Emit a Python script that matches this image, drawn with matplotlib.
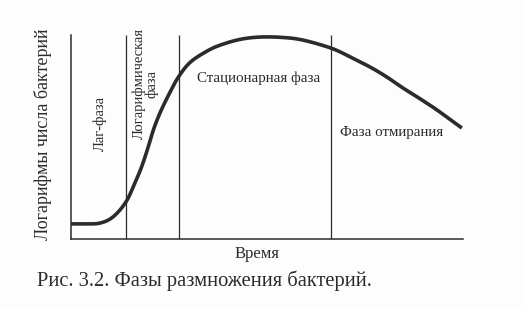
import matplotlib.pyplot as plt
import numpy as np

# Growth curve of a bacterial culture (time and log count in arbitrary units)
time = [0.0, 0.36, 0.74, 1.07, 1.40, 1.63, 1.80, 1.97, 2.10, 2.27, 2.49, 2.74,
        3.04, 3.46, 3.80, 4.30, 4.82, 5.40, 5.92, 6.63, 7.10, 7.63, 8.05, 8.47,
        8.90, 9.34, 9.97]
log_count = [0.74, 0.74, 0.78, 1.08, 1.81, 2.75, 3.53, 4.51, 5.34, 6.18, 7.06, 7.94,
             8.66, 9.20, 9.50, 9.78, 9.90, 9.88, 9.75, 9.36, 8.95, 8.43, 7.95, 7.40,
             6.88, 6.32, 5.44]

# Phase boundaries
phase_bounds = [1.40, 2.76, 6.63]

ylabel = "Логарифмы числа бактерий"
xlabel = "Время"
caption = "Рис. 3.2. Фазы размножения бактерий."

ink = "#2b2b2b"
serif = ["Liberation Serif", "DejaVu Serif"]


def smooth_path(x, y, steps=12):
    # Catmull-Rom pass so the drawn line has no corners
    p = np.column_stack([x, y])
    p = np.vstack([p[0], p, p[-1]])
    out = []
    t = np.linspace(0, 1, steps, endpoint=False)[:, None]
    for i in range(1, len(p) - 2):
        p0, p1, p2, p3 = p[i - 1], p[i], p[i + 1], p[i + 2]
        seg = 0.5 * ((2 * p1) + (-p0 + p2) * t
                     + (2 * p0 - 5 * p1 + 4 * p2 - p3) * t ** 2
                     + (-p0 + 3 * p1 - 3 * p2 + p3) * t ** 3)
        out.append(seg)
    out.append(p[-2][None, :])
    out = np.vstack(out)
    return out[:, 0], out[:, 1]


fig = plt.figure(figsize=(5.22, 3.09), dpi=100)
fig.patch.set_facecolor("#fdfdfd")
ax = fig.add_axes([71 / 522, 70 / 309, 392 / 522, 204 / 309])
ax.set_facecolor("none")
ax.set_xlim(0, 10)
ax.set_ylim(0, 10)

sx, sy = smooth_path(time, log_count)
ax.plot(sx, sy, color=ink, lw=2.6, solid_capstyle="butt", solid_joinstyle="round")
ax.vlines(phase_bounds, 0, 10, color=ink, lw=0.9)

for side in ("top", "right"):
    ax.spines[side].set_visible(False)
for side in ("left", "bottom"):
    ax.spines[side].set_color(ink)
    ax.spines[side].set_linewidth(1.1)
ax.set_xticks([])
ax.set_yticks([])

# phase labels
ax.text(0.74, 5.65, "Лаг-фаза", rotation=90, ha="center", va="center",
        fontsize=10.5, family=serif, color=ink)
ax.text(1.90, 7.6, "Логарифмическая\nфаза", rotation=90, ha="center", va="center",
        multialignment="center", fontsize=10.5, family=serif, color=ink, linespacing=1.0)
ax.text(3.21, 7.86, "Стационарная фаза", ha="left", va="center",
        fontsize=10.8, family=serif, color=ink)
ax.text(6.86, 5.2, "Фаза отмирания", ha="left", va="center",
        fontsize=10.8, family=serif, color=ink)

fig.text(43 / 522, 1 - 134 / 309, ylabel, rotation=90, ha="center", va="center",
         fontsize=13, family=serif, color=ink)
fig.text(257 / 522, 1 - 254 / 309, xlabel, ha="center", va="center",
         fontsize=12, family=serif, color=ink)
fig.text(37 / 522, 1 - 281 / 309, caption, ha="left", va="center",
         fontsize=14.8, family=serif, color=ink)

fig.savefig("out.png", dpi=100, facecolor=fig.get_facecolor())
